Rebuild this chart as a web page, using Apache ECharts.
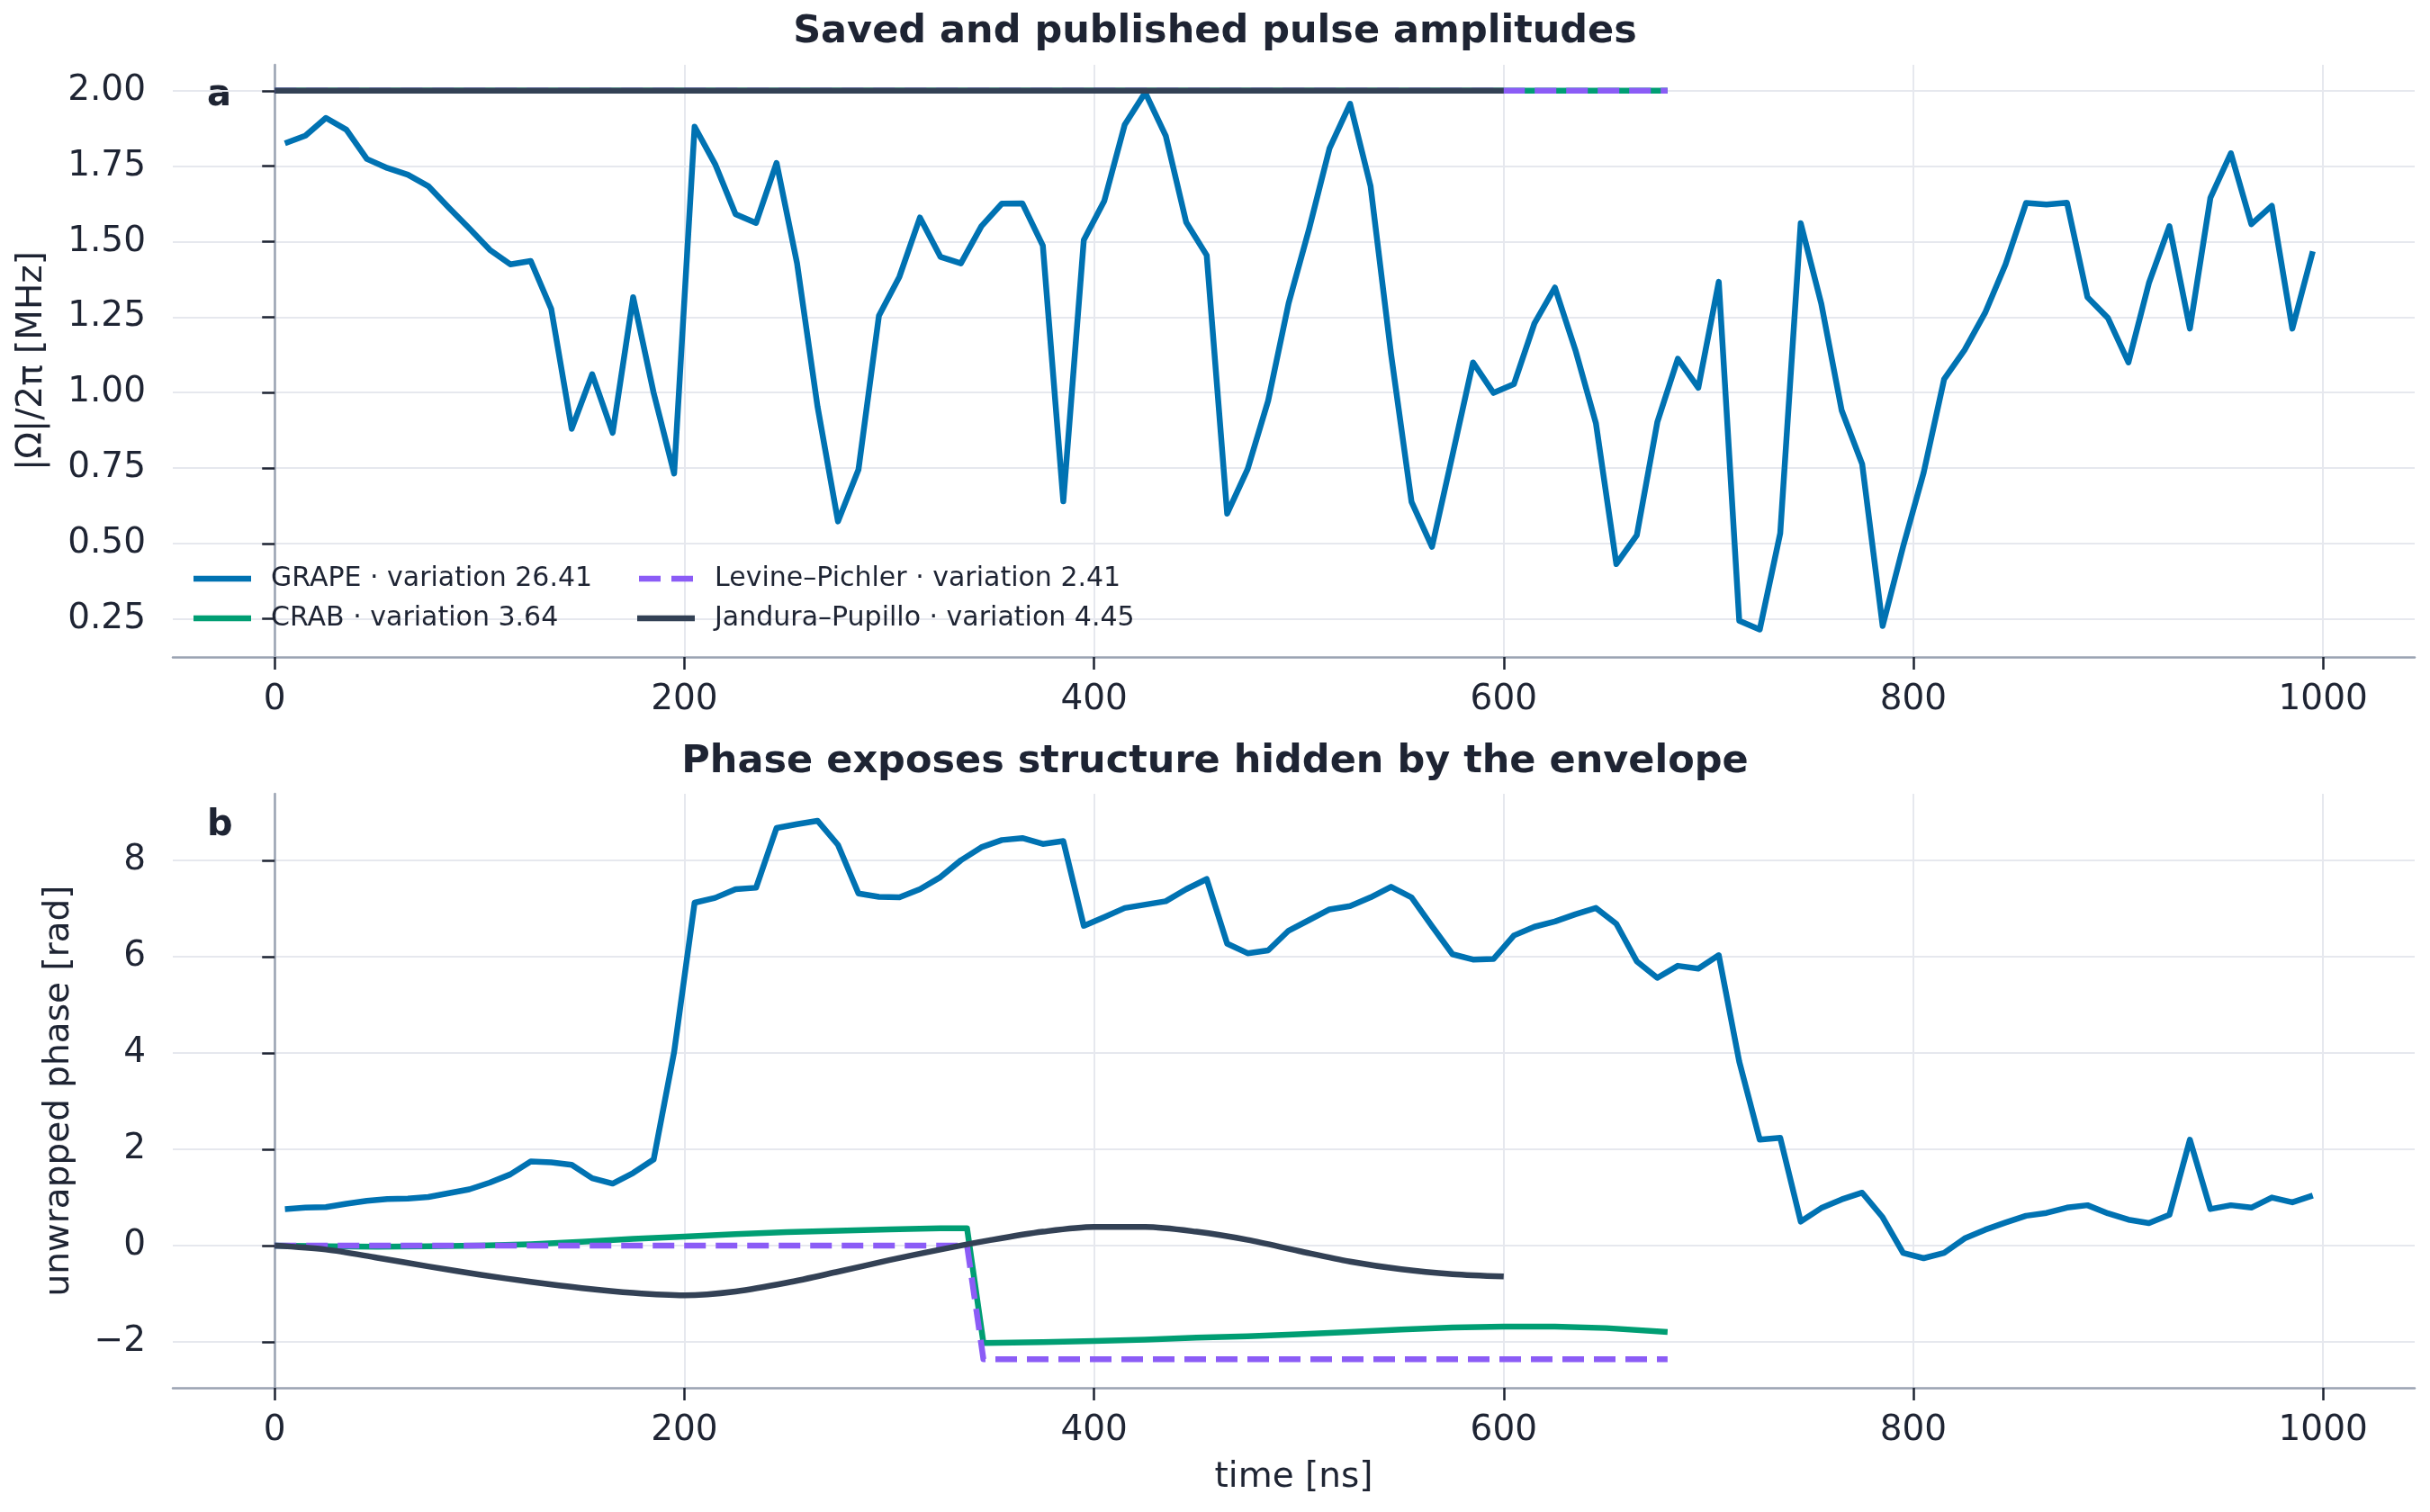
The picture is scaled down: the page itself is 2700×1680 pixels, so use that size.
<!DOCTYPE html>
<html>
<head>
<meta charset="utf-8">
<script src="https://cdn.jsdelivr.net/npm/echarts@6/dist/echarts.min.js"></script>
<style>
html,body{margin:0;padding:0;background:#ffffff;}
#chart{width:2700px;height:1680px;}
</style>
</head>
<body>
<div id="chart"></div>
<script>
// ---------- data ----------
const seriesNames = [
  'GRAPE · variation 26.41',
  'CRAB · variation 3.64',
  'Levine–Pichler · variation 2.41',
  'Jandura–Pupillo · variation 4.45'
];
const grapeTime = [5,15,25,35,45,55,65,75,85,95,105,115,125,135,145,155,165,175,185,195,
  205,215,225,235,245,255,265,275,285,295,305,315,325,335,345,355,365,375,385,395,
  405,415,425,435,445,455,465,475,485,495,505,515,525,535,545,555,565,575,585,595,
  605,615,625,635,645,655,665,675,685,695,705,715,725,735,745,755,765,775,785,795,
  805,815,825,835,845,855,865,875,885,895,905,915,925,935,945,955,965,975,985,995];
const grapeAmp = [1.826,1.851,1.910,1.871,1.774,1.744,1.722,1.684,1.613,1.544,
  1.473,1.425,1.436,1.277,0.880,1.061,0.867,1.316,0.999,0.732,
  1.881,1.757,1.591,1.562,1.761,1.429,0.954,0.573,0.745,1.255,
  1.384,1.580,1.450,1.428,1.551,1.626,1.627,1.487,0.640,1.505,
  1.635,1.888,1.994,1.851,1.564,1.455,0.599,0.747,0.973,1.296,
  1.542,1.810,1.957,1.684,1.128,0.638,0.489,0.793,1.100,0.999,
  1.028,1.229,1.348,1.141,0.899,0.432,0.528,0.902,1.112,1.016,
  1.367,0.244,0.215,0.534,1.561,1.296,0.941,0.763,0.227,0.490,
  0.734,1.044,1.141,1.264,1.425,1.628,1.623,1.629,1.316,1.247,
  1.100,1.363,1.551,1.212,1.645,1.793,1.558,1.619,1.212,1.468];
const grapePhase = [0.76,0.79,0.80,0.87,0.93,0.97,0.98,1.01,1.09,1.17,
  1.31,1.48,1.75,1.73,1.68,1.40,1.29,1.51,1.79,4.02,
  7.12,7.22,7.40,7.43,8.67,8.75,8.82,8.32,7.31,7.24,
  7.23,7.40,7.65,8.00,8.27,8.42,8.46,8.34,8.40,6.64,
  6.82,7.01,7.08,7.15,7.40,7.61,6.27,6.07,6.13,6.54,
  6.76,6.98,7.05,7.23,7.45,7.23,6.63,6.05,5.94,5.95,
  6.44,6.62,6.73,6.88,7.01,6.68,5.90,5.56,5.81,5.75,
  6.03,3.82,2.20,2.24,0.50,0.78,0.96,1.10,0.59,-0.15,
  -0.26,-0.15,0.15,0.33,0.48,0.62,0.68,0.79,0.84,0.67,
  0.54,0.47,0.64,2.20,0.76,0.84,0.79,1.00,0.90,1.04];

const crabAmpTime = [0, 680];
const crabAmp = [2.0, 2.0];
const lpAmpTime = [0, 680];
const lpAmp = [2.0, 2.0];
const jpAmpTime = [0, 600];
const jpAmp = [2.0, 2.0];

const crabPhaseTime = [0,25,50,75,100,125,150,175,200,225,250,275,300,325,338,
  346,375,400,425,450,475,500,525,550,575,600,625,650,680];
const crabPhase = [0.00,-0.01,-0.02,-0.01,0.00,0.03,0.08,0.14,0.19,0.24,0.28,0.31,0.34,0.36,0.36,
  -2.02,-2.00,-1.98,-1.95,-1.91,-1.88,-1.84,-1.79,-1.74,-1.70,-1.68,-1.68,-1.71,-1.79];
const lpPhaseTime = [0, 338, 346, 680];
const lpPhase = [0.0, 0.0, -2.356, -2.356];
const jpPhaseTime = [0,25,50,75,100,125,150,175,200,225,250,275,300,325,350,375,400,
  425,450,475,500,525,550,575,600];
const jpPhase = [0.00,-0.08,-0.25,-0.43,-0.60,-0.75,-0.88,-0.98,-1.03,-0.95,-0.77,-0.54,-0.30,-0.08,0.12,
  0.29,0.39,0.39,0.29,0.12,-0.11,-0.33,-0.49,-0.59,-0.64];

const xTicks = [0, 200, 400, 600, 800, 1000];
const ampTicks = [0.25, 0.50, 0.75, 1.00, 1.25, 1.50, 1.75, 2.00];
const phaseTicks = [-2, 0, 2, 4, 6, 8];

// ---------- styling ----------
const FONT = 'DejaVu Sans';
const TXT = '#1e2433';
const SPINE = '#9aa3b2';
const GRID = '#e6e8ee';
const colors = ['#0072B2', '#009E73', '#8B5CF6', '#334155'];
const LW = 6.5;
const SOLID_ICON = 'path://M0,0h64v6.5h-64z';
const DASH_ICON = 'path://M0,0h24v6.5h-24z M36,0h24v6.5h-24z';

function pairs(xs, ys) { return xs.map((x, i) => [x, ys[i]]); }

function xAxisCfg(gridIndex, showName) {
  return {
    type: 'value', gridIndex: gridIndex, min: -49.75, max: 1044.75,
    name: showName ? 'time [ns]' : '', nameLocation: 'middle', nameGap: 80,
    nameTextStyle: { fontFamily: FONT, fontSize: 39, color: TXT },
    axisLine: { show: true, onZero: false, lineStyle: { color: SPINE, width: 2.5 } },
    axisTick: { show: true, length: 14, customValues: xTicks, lineStyle: { color: TXT, width: 2.5 } },
    axisLabel: { customValues: xTicks, margin: 28, fontFamily: FONT, fontSize: 39, color: TXT,
      formatter: v => String(v) },
    splitLine: { show: true, lineStyle: { color: GRID, width: 2 } }
  };
}
function yAxisCfg(gridIndex, name, min, max, ticks, gap, fmt) {
  return {
    type: 'value', gridIndex: gridIndex, min: min, max: max,
    name: name, nameLocation: 'middle', nameGap: gap,
    nameTextStyle: { fontFamily: FONT, fontSize: 39, color: TXT },
    axisLine: { show: true, lineStyle: { color: SPINE, width: 2.5 } },
    axisTick: { show: true, length: 14, customValues: ticks, lineStyle: { color: TXT, width: 2.5 } },
    axisLabel: { customValues: ticks, margin: 30, fontFamily: FONT, fontSize: 39, color: TXT, formatter: fmt },
    splitLine: { show: true, lineStyle: { color: GRID, width: 2 } }
  };
}
function line(name, data, idx, color, dashed) {
  return {
    type: 'line', name: name, data: data, xAxisIndex: idx, yAxisIndex: idx,
    showSymbol: false, symbol: 'none', smooth: false, clip: true,
    lineStyle: { color: color, width: LW, type: dashed ? [24, 11] : 'solid', cap: 'butt', join: 'round' },
    itemStyle: { color: color },
    emphasis: { disabled: true }, silent: true
  };
}
function legendCfg(names, icons, left) {
  return {
    data: names.map((n, i) => ({ name: n, icon: icons[i] })), orient: 'vertical', left: left, top: 628,
    itemWidth: 64, itemHeight: 6.5, itemGap: 14, selectedMode: false, padding: 0,
    textStyle: { fontFamily: FONT, fontSize: 30, color: TXT, padding: [0, 0, 0, 17], lineHeight: 30 }
  };
}

const chart = echarts.init(document.getElementById('chart'), null, { renderer: 'canvas' });
chart.setOption({
  animation: false,
  backgroundColor: '#ffffff',
  title: [
    { text: 'Saved and published pulse amplitudes', left: 'center', top: 9,
      textStyle: { fontFamily: FONT, fontSize: 43, fontWeight: 'bold', color: TXT } },
    { text: 'Phase exposes structure hidden by the envelope', left: 'center', top: 820,
      textStyle: { fontFamily: FONT, fontSize: 43, fontWeight: 'bold', color: TXT } }
  ],
  graphic: [
    { type: 'text', x: 230, y: 107, style: { text: 'a', fontFamily: FONT, fontSize: 40, fontWeight: 'bold', fill: TXT, verticalAlign: 'middle' } },
    { type: 'text', x: 230, y: 918, style: { text: 'b', fontFamily: FONT, fontSize: 40, fontWeight: 'bold', fill: TXT, verticalAlign: 'middle' } }
  ],
  legend: [
    legendCfg([seriesNames[0], seriesNames[1]], [SOLID_ICON, SOLID_ICON], 215),
    legendCfg([seriesNames[2], seriesNames[3]], [DASH_ICON, SOLID_ICON], 708)
  ],
  grid: [
    { left: 192, top: 72, width: 2491, height: 658 },
    { left: 192, top: 882, width: 2491, height: 660 }
  ],
  xAxis: [xAxisCfg(0, false), xAxisCfg(1, true)],
  yAxis: [
    yAxisCfg(0, '|Ω|/2π [MHz]', 0.124, 2.086, ampTicks, 137, v => v.toFixed(2)),
    yAxisCfg(1, 'unwrapped phase [rad]', -2.95, 9.38, phaseTicks, 107, v => String(v).replace('-', '−'))
  ],
  series: [
    line(seriesNames[0], pairs(grapeTime, grapeAmp), 0, colors[0], false),
    line(seriesNames[1], pairs(crabAmpTime, crabAmp), 0, colors[1], false),
    line(seriesNames[2], pairs(lpAmpTime, lpAmp), 0, colors[2], true),
    line(seriesNames[3], pairs(jpAmpTime, jpAmp), 0, colors[3], false),
    line(seriesNames[0], pairs(grapeTime, grapePhase), 1, colors[0], false),
    line(seriesNames[1], pairs(crabPhaseTime, crabPhase), 1, colors[1], false),
    line(seriesNames[2], pairs(lpPhaseTime, lpPhase), 1, colors[2], true),
    Object.assign(line(seriesNames[3], pairs(jpPhaseTime, jpPhase), 1, colors[3], false), { smooth: 0.3 })
  ]
});
</script>
</body>
</html>
